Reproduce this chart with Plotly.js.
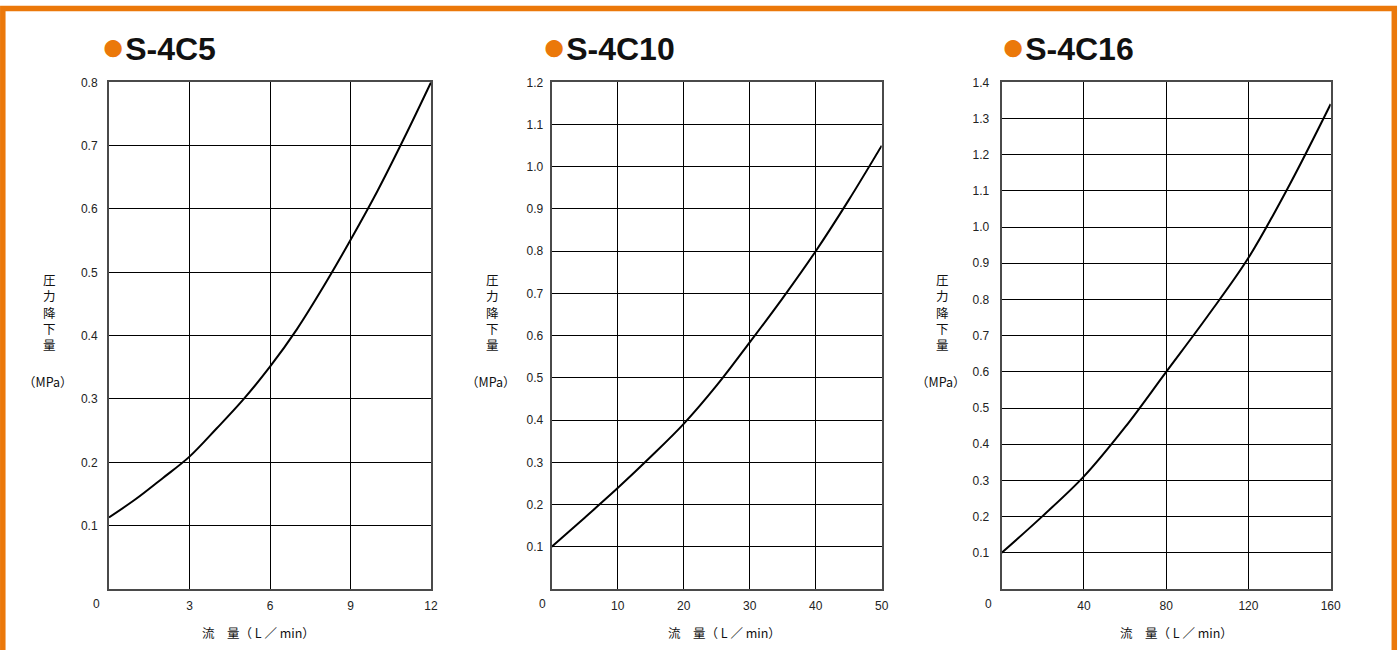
<!DOCTYPE html>
<html>
<head>
<meta charset="utf-8">
<script src="https://cdn.plot.ly/plotly-3.0.1.min.js"></script>
<style>html,body{margin:0;padding:0;background:#fff;}#chart{width:1400px;height:650px;}</style>
</head>
<body>
<div id="chart"></div>
<script>
// ---- data ----
const titles = ["S-4C5", "S-4C10", "S-4C16"];
const flowA = [0, 1, 2, 3, 4, 5, 6, 7, 8, 9, 10, 11, 12];
const dropA = [0.113, 0.142, 0.175, 0.209, 0.253, 0.299, 0.351, 0.410, 0.478, 0.551, 0.628, 0.712, 0.800];
const flowB = [0, 5, 10, 15, 20, 25, 30, 35, 40, 45, 50];
const dropB = [0.100, 0.169, 0.239, 0.313, 0.391, 0.482, 0.584, 0.689, 0.800, 0.921, 1.050];
const flowC = [0, 20, 40, 60, 80, 100, 120, 140, 160];
const dropC = [0.100, 0.202, 0.311, 0.447, 0.600, 0.753, 0.915, 1.117, 1.340];
const xTicksA = [0, 3, 6, 9, 12];
const xTicksB = [0, 10, 20, 30, 40, 50];
const xTicksC = [0, 40, 80, 120, 160];
const yTicksA = [0.1, 0.2, 0.3, 0.4, 0.5, 0.6, 0.7, 0.8];
const yTicksB = [0.1, 0.2, 0.3, 0.4, 0.5, 0.6, 0.7, 0.8, 0.9, 1.0, 1.1, 1.2];
const yTicksC = [0.1, 0.2, 0.3, 0.4, 0.5, 0.6, 0.7, 0.8, 0.9, 1.0, 1.1, 1.2, 1.3, 1.4];
const yTitle = "圧<br>力<br>降<br>下<br>量";
const yUnit = "（MPa）";
const xTitle = "流　量（ L ／ min）";

// ---- layout helpers ----
const W = 1400, H = 650;
const px = v => v / W;
const py = v => 1 - v / H;
const ORANGE = "#EB780A";
const CJK = "Noto Sans CJK JP, sans-serif";
const NUM = "Liberation Sans, Arial, sans-serif";

const panels = [
  {x: flowA, y: dropA, xt: xTicksA, yt: yTicksA, xr: [0, 12], yr: [0, 0.8], l: 109, r: 431, titleX: 99, yTitleX: 49, x0X: 96, xTitleX: 258, standoff: 7},
  {x: flowB, y: dropB, xt: xTicksB, yt: yTicksB, xr: [0, 50], yr: [0, 1.2], l: 551.7, r: 881.7, titleX: 540, yTitleX: 492, x0X: 542, xTitleX: 724, standoff: 4},
  {x: flowC, y: dropC, xt: xTicksC, yt: yTicksC, xr: [0, 160], yr: [0, 1.4], l: 1001.7, r: 1330.7, titleX: 999, yTitleX: 942, x0X: 988, xTitleX: 1176, standoff: 8}
];
const TOP = 82.3, BOTTOM = 589;

const data = [];
const layout = {
  width: W, height: H,
  margin: {l: 0, r: 0, t: 0, b: 0},
  paper_bgcolor: "#fff", plot_bgcolor: "#fff",
  showlegend: false,
  font: {family: NUM, size: 12, color: "#222"},
  annotations: [],
  shapes: [{
    type: "path", xref: "paper", yref: "paper",
    path: `M ${px(2.8)} ${py(660)} L ${px(2.8)} ${py(8.5)} L ${px(1394.3)} ${py(8.5)} L ${px(1394.3)} ${py(660)}`,
    line: {color: ORANGE, width: 5.5}
  }]
};

panels.forEach((p, i) => {
  const n = i === 0 ? "" : String(i + 1);
  data.push({
    type: "scatter", mode: "lines", x: p.x, y: p.y,
    xaxis: "x" + n, yaxis: "y" + n,
    line: {color: "#000", width: 2, shape: "spline", smoothing: 1},
    hoverinfo: "x+y"
  });
  layout["xaxis" + n] = {
    domain: [px(p.l), px(p.r)], range: p.xr, anchor: "y" + n,
    tickvals: p.xt, ticktext: p.xt.map(v => v === 0 ? "" : String(v)),
    showgrid: true, gridcolor: "#000", gridwidth: 1, zeroline: false,
    showline: true, linecolor: "#4a4a4a", linewidth: 2, mirror: true,
    ticks: "", ticklabelstandoff: 5,
    tickfont: {family: NUM, size: 12, color: "#222"}, fixedrange: true
  };
  layout["yaxis" + n] = {
    domain: [py(BOTTOM), py(TOP)], range: p.yr, anchor: "x" + n,
    tickvals: p.yt, tickformat: ".1f",
    showgrid: true, gridcolor: "#000", gridwidth: 1, zeroline: false,
    showline: true, linecolor: "#4a4a4a", linewidth: 2, mirror: true,
    ticks: "", ticklabelstandoff: p.standoff,
    tickfont: {family: NUM, size: 12, color: "#222"}, fixedrange: true
  };
  // panel title with orange bullet
  layout.annotations.push({
    xref: "paper", yref: "paper", x: px(p.titleX), y: py(46),
    xanchor: "left", yanchor: "middle", showarrow: false,
    text: `<span style="color:${ORANGE};font-size:40px">●</span><b>${titles[i]}</b>`,
    font: {family: NUM, size: 32, color: "#111"}
  });
  // vertical y-axis title
  layout.annotations.push({
    xref: "paper", yref: "paper", x: px(p.yTitleX), y: py(311.5),
    xanchor: "center", yanchor: "middle", showarrow: false,
    text: yTitle, font: {family: CJK, size: 12.5, color: "#111"}
  });
  layout.annotations.push({
    xref: "paper", yref: "paper", x: px(p.yTitleX - 1), y: py(381.5),
    xanchor: "center", yanchor: "middle", showarrow: false,
    text: yUnit, font: {family: CJK, size: 12.5, color: "#111"}
  });
  // corner zero label
  layout.annotations.push({
    xref: "paper", yref: "paper", x: px(p.x0X), y: py(604),
    xanchor: "center", yanchor: "middle", showarrow: false,
    text: "0", font: {family: NUM, size: 12, color: "#222"}
  });
  // x-axis title
  layout.annotations.push({
    xref: "paper", yref: "paper", x: px(p.xTitleX), y: py(632),
    xanchor: "center", yanchor: "middle", showarrow: false,
    text: xTitle, font: {family: CJK, size: 12.5, color: "#111"}
  });
});

Plotly.newPlot("chart", data, layout, {displayModeBar: false, staticPlot: true});
</script>
</body>
</html>
